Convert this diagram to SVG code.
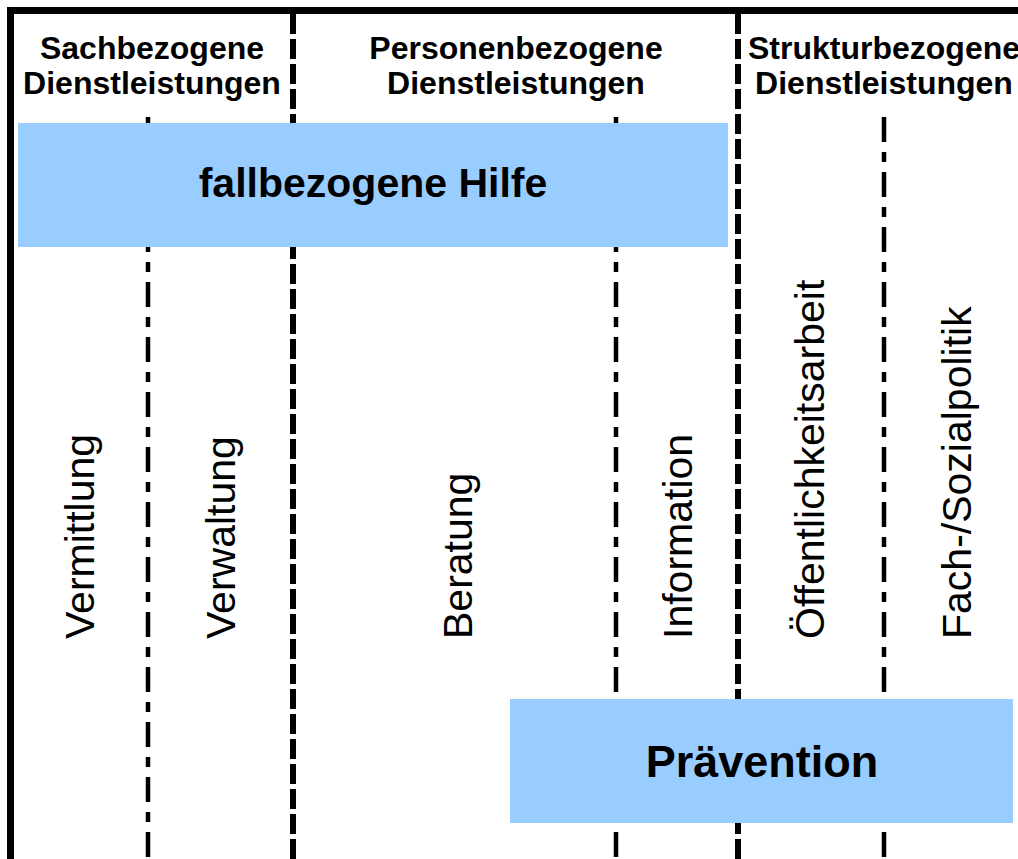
<svg xmlns="http://www.w3.org/2000/svg" width="1018" height="859" viewBox="0 0 1018 859">
<style>
.hdr{font-family:"Liberation Sans",Arial,sans-serif;font-weight:bold;font-size:32px;fill:#000;text-anchor:middle}
.big{font-family:"Liberation Sans",Arial,sans-serif;font-weight:bold;fill:#000;text-anchor:middle}
.vt{font-family:"Liberation Sans",Arial,sans-serif;font-size:41px;fill:#000}
.dash{stroke:#000;stroke-width:6;stroke-dasharray:20 5;fill:none}
.dd{stroke:#000;stroke-width:4.5;stroke-dasharray:25 10 10 10;fill:none}
.box{fill:#99CCFF}
</style>
<rect x="0" y="0" width="1018" height="859" fill="#fff"/>
<g id="connectors">
<path d="M10.5 859 V10.5 H1018" stroke="#000" stroke-width="7" fill="none"/>
<line class="dash" x1="293" y1="14" x2="293" y2="859"/>
<line class="dash" x1="738" y1="14" x2="738" y2="859"/>
<line class="dd" x1="148" y1="117" x2="148" y2="859"/>
<line class="dd" x1="616" y1="117" x2="616" y2="859"/>
<line class="dd" x1="884" y1="117" x2="884" y2="859"/>
</g>
<g id="header-sach">
<text class="hdr" x="152" y="59">Sachbezogene</text>
<text class="hdr" x="152" y="94">Dienstleistungen</text>
</g>
<g id="header-person">
<text class="hdr" x="516" y="59">Personenbezogene</text>
<text class="hdr" x="516" y="94">Dienstleistungen</text>
</g>
<g id="header-struktur">
<text class="hdr" x="884" y="59">Strukturbezogene</text>
<text class="hdr" x="884" y="94">Dienstleistungen</text>
</g>
<g id="fallbezogene-hilfe">
<rect class="box" x="18" y="123" width="710" height="124"/>
<text class="big" x="373" y="197" font-size="41">fallbezogene Hilfe</text>
</g>
<g id="vermittlung"><text class="vt" transform="translate(94,639) rotate(-90)">Vermittlung</text></g>
<g id="verwaltung"><text class="vt" transform="translate(235,639) rotate(-90)">Verwaltung</text></g>
<g id="beratung"><text class="vt" transform="translate(472,639) rotate(-90)">Beratung</text></g>
<g id="information"><text class="vt" transform="translate(692,639) rotate(-90)">Information</text></g>
<g id="oeffentlichkeitsarbeit"><text class="vt" transform="translate(824,639) rotate(-90)">Öffentlichkeitsarbeit</text></g>
<g id="fach-sozialpolitik"><text class="vt" transform="translate(971,639) rotate(-90)">Fach-/Sozialpolitik</text></g>
<g id="praevention">
<rect class="box" x="510" y="699" width="503" height="124"/>
<text class="big" x="762" y="777" font-size="45">Prävention</text>
</g>
</svg>
